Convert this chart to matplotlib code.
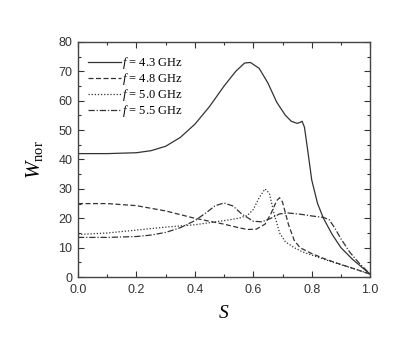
import matplotlib
matplotlib.use("Agg")
import matplotlib.pyplot as plt
from matplotlib.ticker import MultipleLocator, FormatStrFormatter

# f = 4.3 GHz
s_43 = [0.00, 0.10, 0.20, 0.25, 0.30, 0.35, 0.40, 0.45, 0.50, 0.54, 0.57, 0.59, 0.62, 0.65, 0.68, 0.71, 0.73, 0.75, 0.76, 0.767, 0.775, 0.785, 0.80, 0.82, 0.84, 0.87, 0.90, 0.94, 0.97, 1.00]
w_43 = [42.0, 42.0, 42.3, 43.0, 44.5, 47.5, 52.0, 58.0, 65.0, 70.0, 72.8, 73.0, 71.0, 66.0, 59.5, 55.0, 53.0, 52.3, 52.6, 53.0, 51.0, 44.0, 33.0, 25.0, 20.0, 14.5, 10.0, 6.0, 3.5, 1.0]

# f = 4.8 GHz
s_48 = [0.00, 0.10, 0.20, 0.30, 0.40, 0.45, 0.50, 0.55, 0.58, 0.61, 0.64, 0.66, 0.68, 0.69, 0.70, 0.72, 0.74, 0.76, 0.80, 0.85, 0.90, 0.95, 1.00]
w_48 = [25.0, 25.0, 24.3, 22.5, 20.0, 19.0, 18.0, 16.8, 16.2, 16.3, 18.0, 21.5, 26.0, 27.0, 25.5, 18.0, 12.5, 10.0, 8.0, 6.0, 4.3, 2.7, 1.0]

# f = 5.0 GHz
s_50 = [0.00, 0.10, 0.20, 0.30, 0.40, 0.45, 0.50, 0.55, 0.58, 0.60, 0.62, 0.64, 0.655, 0.67, 0.69, 0.71, 0.74, 0.77, 0.80, 0.85, 0.90, 0.95, 1.00]
w_50 = [14.5, 15.0, 16.0, 17.0, 17.8, 18.5, 19.2, 20.0, 21.0, 23.0, 27.0, 30.0, 28.5, 22.0, 15.0, 12.0, 10.0, 8.5, 7.5, 5.8, 4.2, 2.7, 1.0]

# f = 5.5 GHz
s_55 = [0.00, 0.10, 0.20, 0.25, 0.30, 0.35, 0.40, 0.44, 0.47, 0.50, 0.53, 0.56, 0.60, 0.63, 0.66, 0.69, 0.72, 0.76, 0.80, 0.84, 0.86, 0.88, 0.90, 0.93, 0.96, 1.00]
w_55 = [13.5, 13.5, 13.8, 14.3, 15.2, 16.8, 19.2, 22.0, 24.3, 25.2, 24.2, 21.5, 19.0, 18.8, 20.0, 21.5, 21.8, 21.4, 20.8, 20.3, 19.5, 16.5, 13.0, 8.5, 5.0, 1.0]

labels = ["$f$ = 4.3 GHz", "$f$ = 4.8 GHz", "$f$ = 5.0 GHz", "$f$ = 5.5 GHz"]

plt.rcParams["mathtext.fontset"] = "custom"
plt.rcParams["mathtext.it"] = "Liberation Serif:italic"
plt.rcParams["mathtext.rm"] = "Liberation Serif"

fig = plt.figure(figsize=(4.15, 3.49), dpi=100)
ax = fig.add_axes([0.188, 0.206, 0.704, 0.674])

c = "#333333"
lw = 0.9
ax.plot(s_43, w_43, color=c, lw=lw, ls="-", label=labels[0])
ax.plot(s_48, w_48, color=c, lw=lw, ls=(0, (4, 2)), label=labels[1])
ax.plot(s_50, w_50, color=c, lw=lw, ls=(0, (1, 1.5)), label=labels[2])
ax.plot(s_55, w_55, color=c, lw=lw, ls=(0, (5, 1.5, 1, 1.5)), label=labels[3])

ax.set_xlim(0, 1)
ax.set_ylim(0, 80)
ax.xaxis.set_major_locator(MultipleLocator(0.2))
ax.xaxis.set_minor_locator(MultipleLocator(0.1))
ax.yaxis.set_major_locator(MultipleLocator(10))
ax.yaxis.set_minor_locator(MultipleLocator(5))
ax.tick_params(which="both", direction="in", top=True, right=True, colors="#333333",
               labelfontfamily="Liberation Sans", labelsize=9, width=0.8)
ax.tick_params(which="major", length=4)
ax.tick_params(which="minor", length=2)
ax.tick_params(axis="x", which="major", pad=5)
ax.tick_params(axis="y", which="major", pad=4)
ax.xaxis.set_major_formatter(FormatStrFormatter("%.1f"))
for sp in ax.spines.values():
    sp.set_linewidth(1.0)
    sp.set_color("#444444")

ax.set_xlabel("$S$", fontsize=14, labelpad=5)
ax.set_ylabel(r"$W_{\mathrm{nor}}$", fontsize=15, labelpad=10)

leg = ax.legend(loc="upper left", bbox_to_anchor=(0.0, 0.985), frameon=False,
                handlelength=2.6, handletextpad=0.1, labelspacing=0.0,
                borderaxespad=0.4, prop={"family": "Liberation Serif", "size": 9})

fig.savefig("out.png", dpi=100)
